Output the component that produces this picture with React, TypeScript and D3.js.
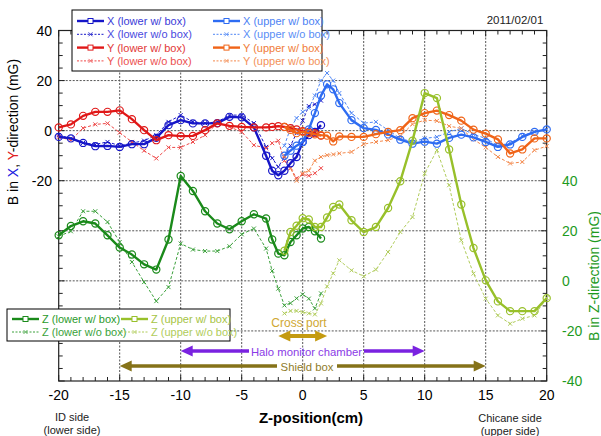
import React, { useEffect, useRef } from 'react';
import * as d3 from 'd3';

// z positions (cm) of the probe
const zLower = [-20, -19, -18, -17, -16, -15, -14, -13, -12, -11, -10, -9, -8, -7, -6, -5, -4, -3, -2.5, -2, -1.5, -1, -0.5, 0, 0.5, 1, 1.5];
const zUpper = [-1.5, -1, -0.5, 0, 0.5, 1, 1.5, 2, 2.5, 3, 4, 5, 6, 7, 8, 9, 10, 11, 12, 13, 14, 15, 16, 17, 18, 19, 20];

// X / Y on left axis (mG)
const xLowerBox = [-2.5, -3.1, -4.9, -6.2, -6.1, -6.5, -5.4, -5.4, -2.9, 2.2, 4.2, 2.9, 2.9, 3, 5.5, 5.3, 1.3, -10, -16, -17.8, -16, -13, -10.5, -4.5, -1.8, -0.5, 2.2];
const xLowerNoBox = [-1.8, -3.1, -4.9, -5.5, -4.5, -6, -5, -4, -1.8, 3.5, 6.2, 3.5, 3, 3.5, 6.2, 6.2, 3, -6.5, -11, -14.5, -10.5, -6, -1, 4, 9.8, 10.5, 12];
const yLowerBox = [1.3, 2.5, 5.9, 7.5, 7.5, 8.1, 4.6, 0.2, -3.8, -1.8, -2.2, -2.1, 0.2, 2.9, 1.9, 1.5, 1.3, 1.3, 1.5, 1.8, 1.5, 1, 0.5, -0.2, -0.5, -1, -2];
const yLowerNoBox = [-2.5, -3.8, 1, 2.5, 2.9, -0.8, -4.5, -8, -11.1, -6.7, -6.7, -4.5, -1.8, 2.9, 1.5, -0.5, -5.8, -7, -5, -4, -12, -15, -19, -17.5, -18, -17, -15];
const xUpperBox = [-10, -8, -6, -4.5, 0.5, 7, 14, 18.5, 16.5, 11, 4.2, 1, 0.3, -1.5, -3.6, -5.2, -4.4, -5.2, -2.9, -1.6, -2.7, -4.5, -6.5, -5.5, -2.5, -0.5, 0.5];
const xUpperNoBox = [-6, 1, 5, 7.5, 9, 14, 20, 23, 20, 15, 7, 3, 3.5, 0.2, -3.1, -4.5, -3.1, -2.5, -0.5, 0.9, -1.5, -3.1, -6, -5, -2, -0.5, 0.5];
const yUpperBox = [1.5, 0.3, -1, -0.5, -1, -1.5, -1.8, -2, -4.3, -2.3, -2.5, -2.5, -1.4, -0.5, 0.2, 5, 7, 8, 6.2, 4, 0.4, -1.2, -3.5, -9.1, -7.5, -3.1, -3.1];
const yUpperNoBox = [-10, -15, -20, -17, -16, -12, -10.5, -9.8, -9.5, -9.1, -8.5, -5.4, -4.5, -3.8, -2.2, 2.6, 4.2, 3.9, 1.8, 0.9, -3.5, -6.7, -10.5, -13.1, -12.5, -7.8, -6.2];

// Z on right axis (mG)
const zLowerBox = [18.2, 21.9, 23.8, 22.9, 18.2, 13.3, 10.5, 6.6, 4.5, 16.5, 41.9, 35.9, 27.8, 22.9, 20.6, 23.8, 26.6, 24.9, 16.5, 10.9, 10.2, 15.5, 18.2, 20.9, 21.5, 19.8, 16.9];
const zLowerNoBox = [17.8, 19.8, 27.8, 27.8, 23.5, 15.5, 7.5, -0.5, -8.1, -2.5, 14.9, 12.5, 11.9, 11.9, 13.8, 18.6, 20.9, 12.9, 4, -3.1, -9.8, -8.9, -7, -5.4, -7.1, -11, -5];
const zUpperBox = [12, 19.5, 22, 25, 24.5, 21.5, 21.5, 25.3, 29.5, 30.5, 24.2, 19.5, 21.5, 29.1, 39.8, 56, 75, 73, 52.5, 30.5, 13.1, 0.2, -8.2, -12.1, -12.1, -12.1, -6.9];
const zUpperNoBox = [-13, -12, -12, -12.5, -13, -13.4, -9, -2.2, 3, 8.2, 4.2, 1.8, 4.5, 11.5, 19.5, 25.5, 42.9, 52.2, 38.2, 16.2, 2.9, -7.1, -13.8, -17.1, -15.1, -13.8, -6.8];

const xTicks = [-20, -15, -10, -5, 0, 5, 10, 15, 20];
const leftTicks = [40, 20, 0, -20];
const rightTicks = [40, 20, 0, -20, -40];

const C = {
  xLow: '#1616c8', xUp: '#2e6cf2',
  yLow: '#e01818', yUp: '#f06418',
  zLow: '#1a8a1a', zUp: '#98c02a',
};

type Series = { label: string; z: number[]; v: number[]; color: string; text: string; dashed: boolean; right: boolean };

const series: Series[] = [
  { label: 'X (lower w/ box)', z: zLower, v: xLowerBox, color: C.xLow, text: '#3a3ad8', dashed: false, right: false },
  { label: 'X (lower w/o box)', z: zLower, v: xLowerNoBox, color: C.xLow, text: '#4a4ae0', dashed: true, right: false },
  { label: 'Y (lower w/ box)', z: zLower, v: yLowerBox, color: C.yLow, text: '#e23838', dashed: false, right: false },
  { label: 'Y (lower w/o box)', z: zLower, v: yLowerNoBox, color: '#ee4848', text: '#ec5050', dashed: true, right: false },
  { label: 'X (upper w/ box)', z: zUpper, v: xUpperBox, color: C.xUp, text: '#4c82f4', dashed: false, right: false },
  { label: 'X (upper w/o box)', z: zUpper, v: xUpperNoBox, color: '#4f86f5', text: '#5a8ef6', dashed: true, right: false },
  { label: 'Y (upper w/ box)', z: zUpper, v: yUpperBox, color: C.yUp, text: '#f07c38', dashed: false, right: false },
  { label: 'Y (upper w/o box)', z: zUpper, v: yUpperNoBox, color: '#f3874a', text: '#f39158', dashed: true, right: false },
  { label: 'Z (lower w/ box)', z: zLower, v: zLowerBox, color: C.zLow, text: '#2a9a2a', dashed: false, right: true },
  { label: 'Z (lower w/o box)', z: zLower, v: zLowerNoBox, color: '#3aa03a', text: '#3aa23a', dashed: true, right: true },
  { label: 'Z (upper w/ box)', z: zUpper, v: zUpperBox, color: C.zUp, text: '#a6c444', dashed: false, right: true },
  { label: 'Z (upper w/o box)', z: zUpper, v: zUpperNoBox, color: '#b0cc5a', text: '#b0cc5a', dashed: true, right: true },
];

const FONT = 'Liberation Sans, Arial, Helvetica, sans-serif';

const App: React.FC = () => {
  const svgRef = useRef<SVGSVGElement>(null);

  useEffect(() => {
    if (!svgRef.current) return;
    const svg = d3.select(svgRef.current);
    svg.selectAll('*').remove();

    const left = 58.7, right = 546.7, top = 30.5, bottom = 381;
    const x = d3.scaleLinear().domain([-20, 20]).range([left, right]);
    const yL = d3.scaleLinear().domain([-100, 40]).range([bottom, top]);
    const yR = d3.scaleLinear().domain([-40, 100]).range([bottom, top]);

    svg.append('rect').attr('width', 601).attr('height', 436).attr('fill', '#fff');

    // grid
    const grid = svg.append('g').attr('stroke', '#555').attr('stroke-width', 1).attr('stroke-dasharray', '2,1.5');
    [-15, -10, -5, 0, 5, 10, 15].forEach(z => {
      grid.append('line').attr('x1', x(z)).attr('x2', x(z)).attr('y1', top).attr('y2', bottom);
    });
    [20, 0, -20, -40, -60, -80].forEach(v => {
      grid.append('line').attr('x1', left).attr('x2', right).attr('y1', yL(v)).attr('y2', yL(v));
    });

    // frame + ticks
    const ax = svg.append('g').attr('stroke', '#222').attr('stroke-width', 1);
    ax.append('rect').attr('x', left).attr('y', top).attr('width', right - left).attr('height', bottom - top).attr('fill', 'none').attr('stroke-width', 1.2);
    d3.range(-20, 21).forEach(z => {
      const len = z % 5 === 0 ? 6 : 4;
      ax.append('line').attr('x1', x(z)).attr('x2', x(z)).attr('y1', bottom).attr('y2', bottom - len);
      ax.append('line').attr('x1', x(z)).attr('x2', x(z)).attr('y1', top).attr('y2', top + len);
    });
    d3.range(-100, 41, 5).forEach(v => {
      const len = v % 20 === 0 ? 6 : 4;
      ax.append('line').attr('x1', left).attr('x2', left + len).attr('y1', yL(v)).attr('y2', yL(v));
      ax.append('line').attr('x1', right).attr('x2', right - len).attr('y1', yL(v)).attr('y2', yL(v));
    });

    // tick labels
    const tl = svg.append('g').attr('font-family', FONT).attr('font-size', 14);
    xTicks.forEach(z => {
      tl.append('text').attr('x', x(z)).attr('y', 400).attr('text-anchor', 'middle').attr('fill', '#000').text(z);
    });
    leftTicks.forEach(v => {
      tl.append('text').attr('x', 52).attr('y', yL(v) + 5).attr('text-anchor', 'end').attr('fill', '#000').text(v);
    });
    rightTicks.forEach(v => {
      tl.append('text').attr('x', 562).attr('y', yR(v) + 5).attr('fill', '#1e9a1e').text(v);
    });

    // data
    const plot = svg.append('g');
    const order = [...series.filter(s => s.dashed), ...series.filter(s => !s.dashed)];
    order.forEach(s => {
      const y = s.right ? yR : yL;
      const pts = s.z.map((z, i) => [z, s.v[i]] as [number, number]);
      const line = d3.line<[number, number]>().x(d => x(d[0])).y(d => y(d[1]));
      const g = plot.append('g');
      g.append('path').attr('d', line(pts)).attr('fill', 'none').attr('stroke', s.color)
        .attr('stroke-width', s.dashed ? 1 : 2.4)
        .attr('stroke-dasharray', s.dashed ? '3,2' : null)
        .attr('stroke-linejoin', 'round');
      if (s.dashed) {
        g.selectAll('path.m').data(pts).enter().append('path').attr('class', 'm')
          .attr('d', d => `M${x(d[0]) - 2},${y(d[1]) - 2}L${x(d[0]) + 2},${y(d[1]) + 2}M${x(d[0]) - 2},${y(d[1]) + 2}L${x(d[0]) + 2},${y(d[1]) - 2}`)
          .attr('stroke', s.color).attr('stroke-width', 1);
      } else {
        g.selectAll('circle').data(pts).enter().append('circle')
          .attr('cx', d => x(d[0])).attr('cy', d => y(d[1])).attr('r', 3.6)
          .attr('fill', 'none').attr('stroke', s.color).attr('stroke-width', 1.2);
      }
    });

    // legends
    const legendItem = (g: any, s: Series, lx: number, ly: number) => {
      g.append('line').attr('x1', lx).attr('x2', lx + 27).attr('y1', ly).attr('y2', ly)
        .attr('stroke', s.color).attr('stroke-width', s.dashed ? 1 : 2.4).attr('stroke-dasharray', s.dashed ? '2,1.5' : null);
      if (s.dashed) {
        g.append('path').attr('d', `M${lx + 11.5},${ly - 2}L${lx + 15.5},${ly + 2}M${lx + 11.5},${ly + 2}L${lx + 15.5},${ly - 2}`)
          .attr('stroke', s.color).attr('stroke-width', 0.8);
      } else {
        g.append('rect').attr('x', lx + 11).attr('y', ly - 2.5).attr('width', 5).attr('height', 5)
          .attr('fill', '#fff').attr('stroke', s.color).attr('stroke-width', 1);
      }
      g.append('text').attr('x', lx + 30).attr('y', ly + 4).attr('font-family', FONT).attr('font-size', 11)
        .attr('fill', s.text).text(s.label);
    };

    const lg1 = svg.append('g');
    lg1.append('rect').attr('x', 72).attr('y', 10).attr('width', 250).attr('height', 61).attr('fill', '#fff').attr('stroke', '#000');
    series.slice(0, 4).forEach((s, i) => legendItem(lg1, s, 77, 21 + i * 13.3));
    series.slice(4, 8).forEach((s, i) => legendItem(lg1, s, 213, 21 + i * 13.3));

    const lg2 = svg.append('g');
    lg2.append('rect').attr('x', 7).attr('y', 309).attr('width', 223).attr('height', 32).attr('fill', '#fff').attr('stroke', '#000');
    series.slice(8, 10).forEach((s, i) => legendItem(lg2, s, 12, 319 + i * 13));
    series.slice(10, 12).forEach((s, i) => legendItem(lg2, s, 121, 319 + i * 13));

    // annotation arrows
    const ann = svg.append('g').attr('font-family', FONT);
    const head = (tip: number, yy: number, dir: number, color: string) => {
      ann.append('path').attr('d', `M${tip},${yy}L${tip - dir * 12},${yy - 5.5}L${tip - dir * 12},${yy + 5.5}Z`).attr('fill', color);
    };
    // cross port
    const cp = '#c49a10';
    ann.append('line').attr('x1', x(-2) + 8).attr('x2', x(2) - 8).attr('y1', 336).attr('y2', 336).attr('stroke', cp).attr('stroke-width', 4);
    head(x(-2), 336, -1, cp);
    head(x(2), 336, 1, cp);
    ann.append('text').attr('x', 299).attr('y', 327).attr('text-anchor', 'middle').attr('font-size', 12).attr('fill', '#d0a832').text('Cross port');
    // halo monitor chamber
    const hm = '#7a22e0';
    ann.append('line').attr('x1', x(-10) + 8).attr('x2', 249).attr('y1', 351).attr('y2', 351).attr('stroke', hm).attr('stroke-width', 3.5);
    ann.append('line').attr('x1', 364).attr('x2', x(10) - 8).attr('y1', 351).attr('y2', 351).attr('stroke', hm).attr('stroke-width', 3.5);
    head(x(-10), 351, -1, hm);
    head(x(10), 351, 1, hm);
    ann.append('text').attr('x', 306.5).attr('y', 355.5).attr('text-anchor', 'middle').attr('font-size', 11.3).attr('fill', '#8a3ae6').text('Halo monitor chamber');
    // shield box
    const sb = '#857218';
    ann.append('line').attr('x1', x(-15) + 8).attr('x2', 277).attr('y1', 366).attr('y2', 366).attr('stroke', sb).attr('stroke-width', 3.5);
    ann.append('line').attr('x1', 337).attr('x2', x(15) - 8).attr('y1', 366).attr('y2', 366).attr('stroke', sb).attr('stroke-width', 3.5);
    head(x(-15), 366, -1, sb);
    head(x(15), 366, 1, sb);
    ann.append('text').attr('x', 307).attr('y', 370.5).attr('text-anchor', 'middle').attr('font-size', 11.3).attr('fill', '#8f7c2a').text('Shield box');

    // titles and side notes
    const tt = svg.append('g').attr('font-family', FONT);
    const lt = tt.append('text').attr('transform', 'translate(18,132) rotate(-90)').attr('text-anchor', 'middle').attr('font-size', 14).attr('fill', '#000');
    lt.append('tspan').text('B in ');
    lt.append('tspan').attr('fill', '#2020e0').text('X');
    lt.append('tspan').text(', ');
    lt.append('tspan').attr('fill', '#e02020').text('Y');
    lt.append('tspan').text('-direction (mG)');
    tt.append('text').attr('transform', 'translate(599,276) rotate(-90)').attr('text-anchor', 'middle').attr('font-size', 14).attr('fill', '#1e9a1e').text('B in Z-direction (mG)');
    tt.append('text').attr('x', 311).attr('y', 423).attr('text-anchor', 'middle').attr('font-size', 15).attr('font-weight', 'bold').attr('fill', '#000').text('Z-position(cm)');
    tt.append('text').attr('x', 515).attr('y', 24).attr('text-anchor', 'middle').attr('font-size', 11.5).attr('fill', '#222').text('2011/02/01');
    tt.append('text').attr('x', 72).attr('y', 421).attr('text-anchor', 'middle').attr('font-size', 11).attr('fill', '#222').text('ID side');
    tt.append('text').attr('x', 72).attr('y', 434).attr('text-anchor', 'middle').attr('font-size', 11).attr('fill', '#222').text('(lower side)');
    tt.append('text').attr('x', 510).attr('y', 422).attr('text-anchor', 'middle').attr('font-size', 11).attr('fill', '#222').text('Chicane side');
    tt.append('text').attr('x', 510).attr('y', 435).attr('text-anchor', 'middle').attr('font-size', 11).attr('fill', '#222').text('(upper side)');
  }, []);

  return (
    <div style={{ position: 'absolute', left: 0, top: 0 }}>
      <svg ref={svgRef} width={601} height={436} style={{ display: 'block' }}></svg>
    </div>
  );
};

export default App;
